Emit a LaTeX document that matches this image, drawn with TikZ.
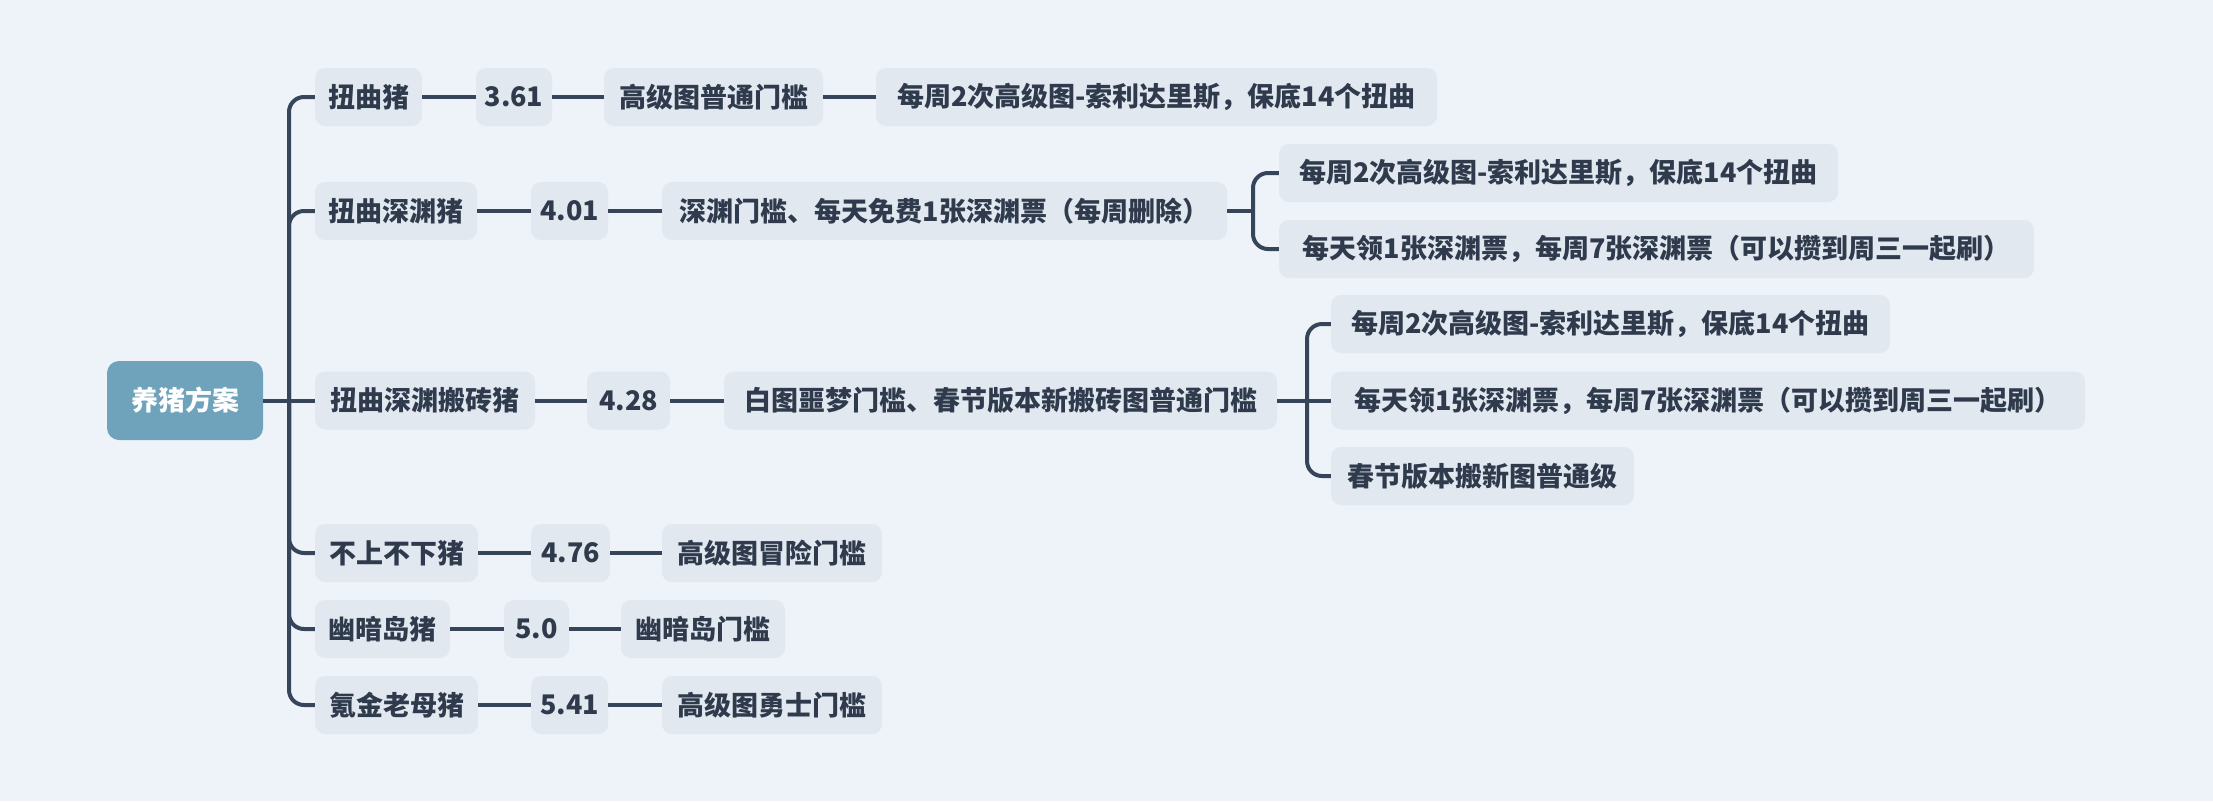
\documentclass[tikz,border=0pt]{standalone}
\usepackage{fontspec}
\setmainfont{Noto Sans CJK SC}
\definecolor{bgc}{HTML}{EEF3FA}
\definecolor{nodefill}{HTML}{E2E8F0}
\definecolor{rootfill}{HTML}{6FA3BC}
\definecolor{linec}{HTML}{364559}
\definecolor{textc}{HTML}{2F3B4C}
\tikzset{
  box/.style={fill=nodefill, rounded corners=10pt, minimum height=58pt, inner xsep=0pt, inner ysep=0pt,
    text=textc, font=\fontsize{27}{32}\selectfont\bfseries, anchor=center},
  rootbox/.style={fill=rootfill, rounded corners=12pt, minimum height=79pt, minimum width=156pt, inner sep=0pt,
    text=white, font=\fontsize{27}{32}\selectfont\bfseries},
  conn/.style={draw=linec, line width=4pt},
  bracket/.style={draw=linec, line width=4pt, rounded corners=15pt},
}
\begin{document}
\begin{tikzpicture}[x=1pt,y=-1pt]
\fill[bgc] (0,0) rectangle (2213,801);
\useasboundingbox (0,0) rectangle (2213,801);
% root
\node[rootbox] (root) at (185,400.5) {养猪方案};
% row 1
\node[box, minimum width=107pt] (n11) at (368.5,97) {扭曲猪};
\node[box, minimum width=76pt] (n12) at (514,97) {3.61};
\node[box, minimum width=219pt] (n13) at (713.5,97) {高级图普通门槛};
\node[box, minimum width=561pt] (n14) at (1156.5,97) {每周2次高级图-索利达里斯，保底14个扭曲};
% row 2
\node[box, minimum width=162pt] (n21) at (396,211) {扭曲深渊猪};
\node[box, minimum width=77pt] (n22) at (569.5,211) {4.01};
\node[box, minimum width=565pt] (n23) at (944.5,211) {深渊门槛、每天免费1张深渊票（每周删除）};
\node[box, minimum width=559pt] (c21) at (1558.5,173) {每周2次高级图-索利达里斯，保底14个扭曲};
\node[box, minimum width=755pt] (c22) at (1656.5,249) {每天领1张深渊票，每周7张深渊票（可以攒到周三一起刷）};
% row 3
\node[box, minimum width=220pt] (n31) at (425,400.5) {扭曲深渊搬砖猪};
\node[box, minimum width=83pt] (n32) at (628.5,400.5) {4.28};
\node[box, minimum width=553pt] (n33) at (1000.5,400.5) {白图噩梦门槛、春节版本新搬砖图普通门槛};
\node[box, minimum width=559pt] (c31) at (1610.5,324) {每周2次高级图-索利达里斯，保底14个扭曲};
\node[box, minimum width=754pt] (c32) at (1708,400.5) {每天领1张深渊票，每周7张深渊票（可以攒到周三一起刷）};
\node[box, minimum width=303pt] (c33) at (1482.5,476) {春节版本搬新图普通级};
% row 4
\node[box, minimum width=163pt] (n41) at (396.5,553) {不上不下猪};
\node[box, minimum width=79pt] (n42) at (570.5,553) {4.76};
\node[box, minimum width=220pt] (n43) at (772,553) {高级图冒险门槛};
% row 5
\node[box, minimum width=135pt] (n51) at (382.5,629) {幽暗岛猪};
\node[box, minimum width=65pt] (n52) at (536.5,629) {5.0};
\node[box, minimum width=164pt] (n53) at (703,629) {幽暗岛门槛};
% row 6
\node[box, minimum width=163pt] (n61) at (396.5,705) {氪金老母猪};
\node[box, minimum width=77pt] (n62) at (569.5,705) {5.41};
\node[box, minimum width=220pt] (n63) at (772,705) {高级图勇士门槛};
% junction coordinates
\coordinate (tx) at (289,0);
\coordinate (bx2) at (1253,0);
\coordinate (bx3) at (1307,0);
\coordinate (j1) at (tx |- root.east);
\coordinate (j2) at (bx2 |- n23.east);
\coordinate (j3) at (bx3 |- n33.east);
% trunk connectors
\draw[conn] (root.east) -- (n31.west);
\foreach \c in {n11,n21,n41,n51,n61}
  \draw[bracket] (j1) |- (\c.west);
% chain connectors
\draw[conn] (n11) -- (n12); \draw[conn] (n12) -- (n13); \draw[conn] (n13) -- (n14);
\draw[conn] (n21) -- (n22); \draw[conn] (n22) -- (n23);
\draw[conn] (n31) -- (n32); \draw[conn] (n32) -- (n33);
\draw[conn] (n41) -- (n42); \draw[conn] (n42) -- (n43);
\draw[conn] (n51) -- (n52); \draw[conn] (n52) -- (n53);
\draw[conn] (n61) -- (n62); \draw[conn] (n62) -- (n63);
% sub brackets
\draw[conn] (n23.east) -- (j2);
\foreach \c in {c21,c22}
  \draw[bracket] (j2) |- (\c.west);
\draw[conn] (n33.east) -- (c32.west);
\foreach \c in {c31,c33}
  \draw[bracket] (j3) |- (\c.west);
\end{tikzpicture}
\end{document}
